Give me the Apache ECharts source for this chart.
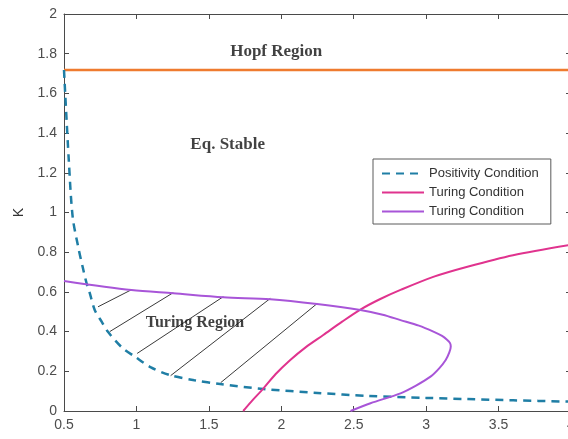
<!DOCTYPE html>
<html>
<head>
<meta charset="utf-8">
<script src="https://cdn.jsdelivr.net/npm/echarts@6/dist/echarts.min.js"></script>
<style>
  html, body { margin: 0; padding: 0; background: #fff; }
  #chart { width: 568px; height: 439px; }
</style>
</head>
<body>
<div id="chart"></div>
<script>
// Axis ticks
const xTicks = [0.5, 1, 1.5, 2, 2.5, 3, 3.5, 4];
const yTicks = [0, 0.2, 0.4, 0.6, 0.8, 1, 1.2, 1.4, 1.6, 1.8, 2];

// Hopf boundary (constant K)
const hopfK = 1.718;
const hopfX = [0.5, 4];

// Positivity condition boundary
const posX = [0.5, 0.533, 0.56, 0.6, 0.629, 0.655, 0.678, 0.712, 0.76, 0.802, 0.9, 0.989, 1.1, 1.23, 1.4, 1.578, 1.876, 2.25, 2.595, 3.0, 3.287, 3.6, 4.0];
const posK = [1.718, 1.264, 0.977, 0.82, 0.725, 0.646, 0.594, 0.509, 0.45, 0.40, 0.32, 0.274, 0.22, 0.181, 0.155, 0.136, 0.111, 0.091, 0.076, 0.066, 0.060, 0.054, 0.047];

// First Turing condition boundary
const tur1X = [1.737, 1.79, 1.877, 1.96, 2.062, 2.17, 2.29, 2.42, 2.546, 2.68, 2.823, 3.054, 3.285, 3.6, 4.0];
const tur1K = [0.0, 0.045, 0.114, 0.185, 0.257, 0.322, 0.383, 0.45, 0.511, 0.563, 0.61, 0.677, 0.727, 0.785, 0.838];

// Second Turing condition boundary (folds back on itself)
const tur2X = [0.5, 0.966, 1.254, 1.6, 1.924, 2.247, 2.546, 2.7, 2.823, 2.95, 3.05, 3.11, 3.146, 3.165, 3.17, 3.16, 3.135, 3.09, 3.03, 2.93, 2.823, 2.616, 2.478];
const tur2K = [0.655, 0.609, 0.593, 0.573, 0.563, 0.539, 0.509, 0.485, 0.458, 0.43, 0.40, 0.378, 0.358, 0.342, 0.325, 0.295, 0.257, 0.215, 0.173, 0.128, 0.089, 0.039, 0.0];

// Hatching inside the Turing region
const hatchX0 = [0.735, 0.816, 1.005, 1.236, 1.582];
const hatchK0 = [0.525, 0.40, 0.29, 0.178, 0.143];
const hatchX1 = [0.966, 1.254, 1.60, 1.924, 2.247];
const hatchK1 = [0.611, 0.596, 0.576, 0.567, 0.541];

// Region annotations
const regionNames = ['Hopf Region', 'Eq. Stable', 'Turing Region'];
const regionX = [1.965, 1.63, 1.404];
const regionK = [1.81, 1.34, 0.445];
const regionFontSize = [17, 17, 16];

const zip = (xs, ys) => xs.map((x, i) => [x, ys[i]]);

const axisColor = '#4a4a4a';
const labelColor = '#4d4d4d';
const sansFont = '"Liberation Sans", Arial, sans-serif';
const serifFont = '"Liberation Serif", "Times New Roman", serif';

const hatchSeries = hatchX0.map((x0, i) => ({
  type: 'line',
  name: 'hatch' + i,
  data: [[x0, hatchK0[i]], [hatchX1[i], hatchK1[i]]],
  symbol: 'none',
  silent: true,
  lineStyle: { color: '#3a3a3a', width: 1 },
  z: 1
}));

const legendNames = {
  positivity: 'Positivity Condition',
  turingA: 'Turing Condition',
  turingB: 'Turing Condition'
};

const chart = echarts.init(document.getElementById('chart'), null, { renderer: 'canvas' });

// plot box spans x = 0.5 .. 4 over 507 px; the right edge sits just past the canvas
chart.setOption({
  animation: false,
  backgroundColor: '#ffffff',
  grid: { left: 64, width: 507, top: 14, bottom: 28, containLabel: false, outerBoundsMode: 'none' },
  xAxis: [
    {
      type: 'value', min: 0.5, max: 4, interval: 0.5,
      axisLine: { show: true, onZero: false, lineStyle: { color: axisColor, width: 1 } },
      axisTick: { show: true, inside: true, length: 5, lineStyle: { color: axisColor } },
      axisLabel: { color: labelColor, fontSize: 14, fontFamily: sansFont, margin: 7,
        formatter: v => String(v) },
      splitLine: { show: false }
    },
    {
      type: 'value', position: 'top', min: 0.5, max: 4, interval: 0.5,
      axisLine: { show: true, onZero: false, lineStyle: { color: axisColor, width: 1 } },
      axisTick: { show: true, inside: true, length: 5, lineStyle: { color: axisColor } },
      axisLabel: { show: false },
      splitLine: { show: false }
    }
  ],
  yAxis: [
    {
      type: 'value', min: 0, max: 2, interval: 0.2,
      name: 'K', nameLocation: 'middle', nameGap: 38,
      nameTextStyle: { color: '#333', fontSize: 14, fontFamily: sansFont },
      axisLine: { show: true, onZero: false, lineStyle: { color: axisColor, width: 1 } },
      axisTick: { show: true, inside: true, length: 5, lineStyle: { color: axisColor } },
      axisLabel: { color: labelColor, fontSize: 14, fontFamily: sansFont, margin: 7,
        formatter: v => String(Math.round(v * 10) / 10) },
      splitLine: { show: false }
    },
    {
      type: 'value', position: 'right', min: 0, max: 2, interval: 0.2,
      axisLine: { show: true, onZero: false, lineStyle: { color: axisColor, width: 1 } },
      axisTick: { show: true, inside: true, length: 5, lineStyle: { color: axisColor } },
      axisLabel: { show: false },
      splitLine: { show: false }
    }
  ],
  legend: {
    orient: 'vertical',
    left: 373, top: 159,
    data: ['positivity', 'turingA', 'turingB'],
    formatter: n => legendNames[n],
    itemWidth: 42, itemHeight: 14, itemGap: 6,
    padding: [8, 12, 6, 8],
    backgroundColor: '#ffffff',
    borderColor: '#5a5a5a', borderWidth: 1,
    itemStyle: { opacity: 0 },
    textStyle: { color: '#333', fontSize: 13, fontFamily: sansFont }
  },
  series: [
    {
      type: 'line', name: 'hopf',
      data: zip(hopfX, hopfX.map(() => hopfK)),
      symbol: 'none', lineStyle: { color: '#ef7b2f', width: 2.5 }, z: 2
    },
    {
      type: 'line', name: 'positivity',
      data: zip(posX, posK), smooth: 0.3,
      symbol: 'none', color: '#1f7ea5',
      lineStyle: { color: '#1f7ea5', width: 2.5, type: [8, 6] }, z: 3
    },
    {
      type: 'line', name: 'turingA',
      data: zip(tur1X, tur1K), smooth: 0.3,
      symbol: 'none', color: '#e0338e',
      lineStyle: { color: '#e0338e', width: 2 }, z: 3
    },
    {
      type: 'line', name: 'turingB',
      data: zip(tur2X, tur2K), smooth: 0.3,
      symbol: 'none', color: '#a855d8',
      lineStyle: { color: '#a855d8', width: 2 }, z: 3
    },
    ...hatchSeries,
    {
      type: 'scatter', name: 'labels',
      data: regionNames.map((n, i) => ({
        value: [regionX[i], regionK[i]], name: n,
        label: { fontSize: regionFontSize[i] }
      })),
      symbolSize: 1,
      itemStyle: { color: 'rgba(0,0,0,0)' },
      silent: true,
      label: {
        show: true, position: 'inside',
        formatter: p => p.name,
        color: '#111', fontWeight: 'bold', fontFamily: serifFont
      },
      z: 5
    }
  ]
});
</script>
</body>
</html>
